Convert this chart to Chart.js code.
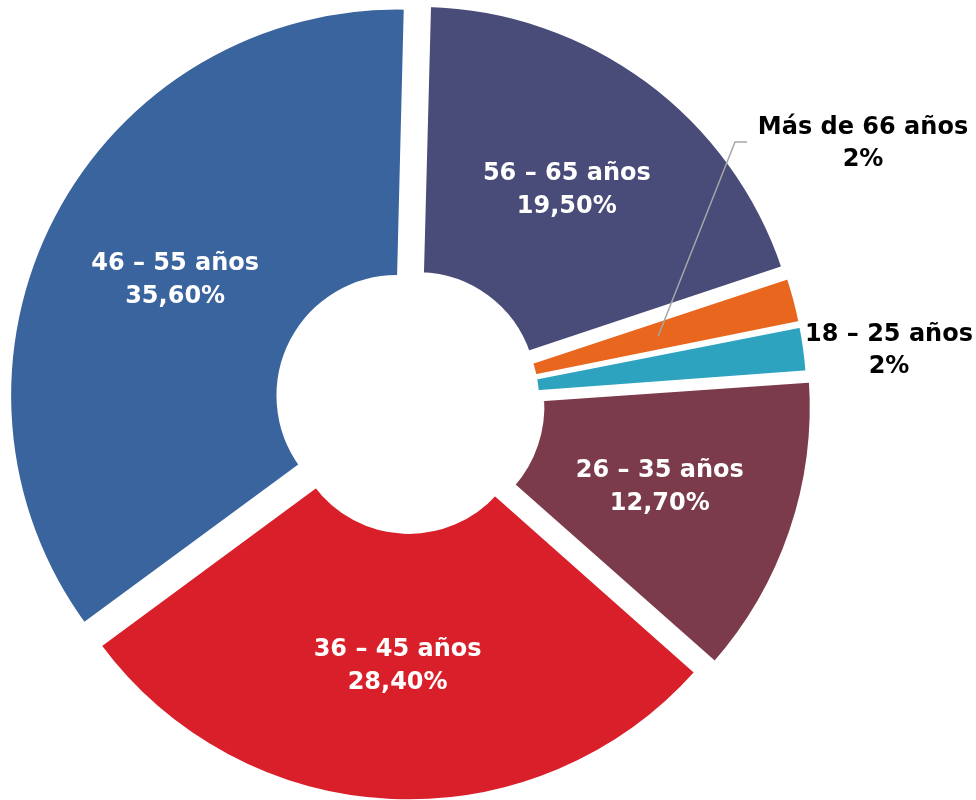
<!DOCTYPE html>
<html>
<head>
<meta charset="utf-8">
<script src="https://cdn.jsdelivr.net/npm/chart.js@4/dist/chart.umd.min.js"></script>
<style>
    html, body { margin: 0; padding: 0; background: #fff; }
    #wrap { width: 976px; height: 800px; position: relative; }
</style>
</head>
<body>
<div id="wrap"><canvas id="chart-edades"></canvas></div>
<script>
const rangos = ["56 – 65 años", "Más de 66 años", "18 – 25 años", "26 – 35 años", "36 – 45 años", "46 – 55 años"];
const porcentajes = [19.5, 2, 2, 12.7, 28.4, 35.6];
const textoValor = ["19,50%", "2%", "2%", "12,70%", "28,40%", "35,60%"];
const colores = ["#494b78", "#e9661f", "#2ea3bf", "#7b3b4b", "#d91f29", "#3a649d"];

// etiquetas fuera del anillo (segmentos pequeños)
const externas = {
    1: { x: 863, y: 128, linea: [[735, 142], [747, 142]] },
    2: { x: 889, y: 335 },
};

const etiquetasPlugin = {
    id: "etiquetas",
    afterDatasetsDraw(chart) {
        const ctx = chart.ctx;
        const meta = chart.getDatasetMeta(0);
        ctx.save();
        ctx.font = "bold 24px 'DejaVu Sans'";
        ctx.textAlign = "center";
        ctx.textBaseline = "middle";
        meta.data.forEach((arc, i) => {
            const p = arc.getProps(["x", "y", "startAngle", "endAngle", "innerRadius", "outerRadius"], true);
            const mid = (p.startAngle + p.endAngle) / 2;
            const desp = (arc.options.offset || 0) / 4;
            const r = (p.innerRadius + p.outerRadius) / 2 + desp;
            const cx = p.x + Math.cos(mid) * r;
            const cy = p.y + Math.sin(mid) * r;
            const ext = externas[i];
            if (!ext) {
                ctx.fillStyle = "#ffffff";
                ctx.fillText(rangos[i], cx, cy - 16);
                ctx.fillText(textoValor[i], cx, cy + 17);
                return;
            }
            if (ext.linea) {
                ctx.strokeStyle = "#a6a6a6";
                ctx.lineWidth = 1.5;
                ctx.beginPath();
                ctx.moveTo(cx, cy);
                ext.linea.forEach(([lx, ly]) => ctx.lineTo(lx, ly));
                ctx.stroke();
            }
            ctx.fillStyle = "#000000";
            ctx.fillText(rangos[i], ext.x, ext.y);
            ctx.fillText(textoValor[i], ext.x, ext.y + 32);
        });
        ctx.restore();
    }
};

const ctx = document.getElementById("chart-edades").getContext("2d");
new Chart(ctx, {
    type: "doughnut",
    data: {
        labels: rangos,
        datasets: [
            {
                data: porcentajes,
                backgroundColor: colores,
                borderColor: "#ffffff",
                borderWidth: (c) => (c.raw < 5 ? 4 : 6),
                borderJoinStyle: "miter",
                // segmentos pequeños se separan menos
                offset: (c) => (c.raw < 5 ? 28 : 56),
                spacing: 0,
            },
        ],
    },
    options: {
        responsive: true,
        maintainAspectRatio: false,
        animation: false,
        rotation: 1.5,
        radius: 386,
        cutout: 109,
        layout: {
            padding: { left: 0, right: 157, top: 4, bottom: 0 },
        },
        plugins: {
            legend: { display: false },
            tooltip: { enabled: false },
        },
    },
    plugins: [etiquetasPlugin],
});
</script>
</body>
</html>
